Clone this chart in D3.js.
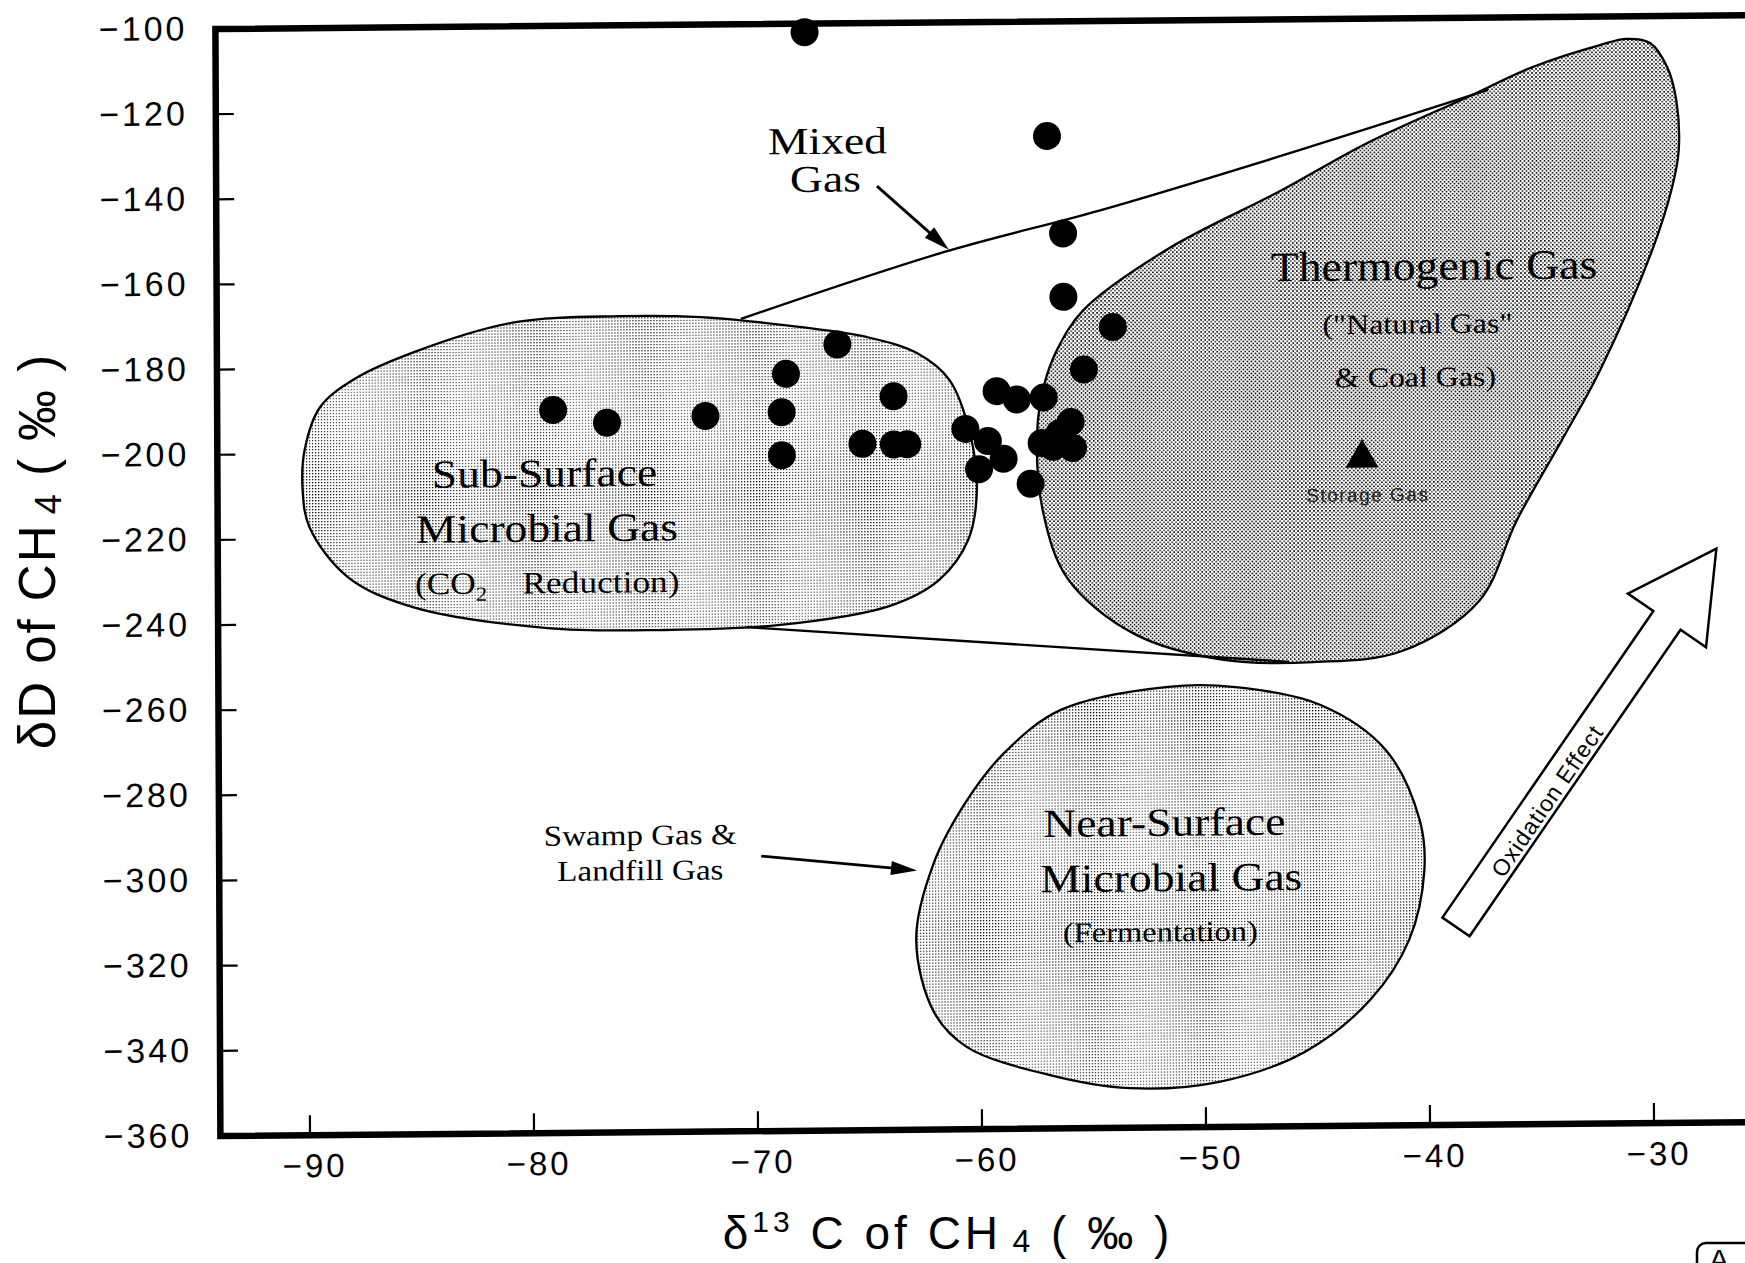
<!DOCTYPE html>
<html><head><meta charset="utf-8">
<script src="https://cdn.jsdelivr.net/npm/d3@7"></script>
<style>html,body{margin:0;padding:0;background:#fff;overflow:hidden}</style>
</head><body>
<svg id="chart" width="1745" height="1263" xmlns="http://www.w3.org/2000/svg"></svg>
<script>
// ---------------- data ----------------
const xTicks = [-90, -80, -70, -60, -50, -40, -30];
const xTickLabels = ["\u221290", "\u221280", "\u221270", "\u221260", "\u221250", "\u221240", "\u221230"];
const yTicks = [-100, -120, -140, -160, -180, -200, -220, -240, -260, -280, -300, -320, -340, -360];
const yTickLabels = ["\u2212100", "\u2212120", "\u2212140", "\u2212160", "\u2212180", "\u2212200", "\u2212220",
                     "\u2212240", "\u2212260", "\u2212280", "\u2212300", "\u2212320", "\u2212340", "\u2212360"];

// samples: delta13C and deltaD of CH4 (per mil)
const samplesD13C = [-67.7, -56.9, -56.2, -56.2, -54.0, -55.3, -59.2, -58.3, -57.1, -60.6, -59.6, -60.0, -58.9, -57.7,
                     -57.2, -56.7, -56.4, -55.9, -55.8,
                     -79.0, -76.6, -72.2, -68.8, -68.6, -68.8, -66.3, -65.2, -63.8, -63.8, -63.2];
const samplesDD   = [-102.0, -126.9, -149.8, -164.7, -171.9, -181.8, -186.7, -188.7, -188.3, -195.5, -198.4, -205.0, -202.6, -208.5,
                     -199.0, -199.9, -196.7, -194.1, -200.2,
                     -190.2, -193.3, -191.9, -191.2, -182.2, -201.3, -175.4, -198.8, -187.7, -199.0, -199.0];
const storageGasD13C = [-42.9];
const storageGasDD = [-203.2];

// field outlines (delta13C, deltaD)
const subSurfaceOutline = [[-89.4,-189.0],[-87.9,-182.6],[-85.2,-176.3],[-80.8,-169.6],[-76.0,-168.3],[-72.4,-168.7],
  [-68.0,-171.2],[-65.0,-173.7],[-62.75,-177.6],[-61.3,-184.0],[-60.4,-196.5],[-60.1,-209.9],[-60.5,-221.6],
  [-61.8,-230.9],[-64.0,-236.9],[-69.0,-241.2],[-74.3,-242.1],[-79.3,-241.4],[-85.3,-236.2],[-88.2,-229.0],
  [-89.9,-217.2],[-90.2,-208.4],[-90.1,-199.0]];
const thermogenicOutline = [[-35.2,-111.7],[-32.2,-106.7],[-31.0,-105.3],[-29.96,-106.3],[-29.2,-112.0],[-28.8,-119.8],
  [-28.7,-131.5],[-29.0,-140.2],[-29.9,-154.9],[-32.25,-183.0],[-33.9,-198.7],[-36.0,-218.1],[-37.7,-237.0],
  [-41.15,-248.6],[-45.1,-251.0],[-49.1,-250.3],[-53.1,-244.0],[-56.05,-231.0],[-57.15,-215.2],[-57.4,-196.6],
  [-57.1,-185.8],[-56.5,-177.2],[-55.3,-167.8],[-51.6,-153.9],[-46.5,-140.3],[-42.6,-129.2],[-38.1,-118.6]];
const nearSurfaceOutline = [[-62.9,-315.4],[-62.1,-297.4],[-60.6,-282.7],[-58.9,-271.5],[-56.4,-261.7],[-51.6,-256.5],
  [-48.6,-256.7],[-44.8,-261.1],[-41.9,-271.8],[-40.4,-288.3],[-40.2,-300.1],[-40.9,-316.5],[-42.65,-330.5],
  [-45.6,-342.6],[-49.4,-349.4],[-53.4,-350.7],[-57.0,-347.4],[-60.65,-340.7],[-62.1,-332.6]];
const mixedUpper = [[-70.6,-169.2],[-61.5,-153.9],[-54.5,-144.4],[-45.6,-130.7],[-37.2,-117.0]];
const mixedLower = [[-70.4,-241.6],[-46.2,-250.9]];

// annotation arrows
const mixedArrow = [[-64.5,-138.3],[-61.3,-153.4]];
const swampArrow = [[-69.8,-295.4],[-62.85,-299.1]];
const oxidationArrow = [[-38.8,-313.5],[-27.1,-225.2]];

// ---------------- drawing ----------------
const svg = d3.select('#chart');
const x = d3.scaleLinear().domain([-90, -30]).range([310, 1654]);
const y = d3.scaleLinear().domain([-100, -360]).range([29, 1136]);
const xMin = -94, xMax = -24;
const X0 = x(xMin), Y0 = y(-360);
const shY = -0.009, shX = 0.0045; // scan skew
const serif = '"Liberation Serif", "Times New Roman", serif';
const sans = '"Liberation Sans", Arial, Helvetica, sans-serif';

const defs = svg.append('defs');
const pd = defs.append('pattern').attr('id', 'dotsDark').attr('patternUnits', 'userSpaceOnUse').attr('width', 4).attr('height', 4);
pd.append('rect').attr('width', 4).attr('height', 4).attr('fill', '#fff');
pd.append('rect').attr('x', 0).attr('y', 0).attr('width', 1.55).attr('height', 1.55).attr('fill', '#000');
pd.append('rect').attr('x', 2).attr('y', 2).attr('width', 1.55).attr('height', 1.55).attr('fill', '#000');
const pl = defs.append('pattern').attr('id', 'dotsLight').attr('patternUnits', 'userSpaceOnUse').attr('width', 3).attr('height', 3);
pl.append('rect').attr('width', 3).attr('height', 3).attr('fill', '#fff');
pl.append('rect').attr('x', 0).attr('y', 0).attr('width', 1.12).attr('height', 1.12).attr('fill', '#000');

const g = svg.append('g').attr('transform', `matrix(1,${shY},${shX},1,${-shX * Y0},${-shY * X0})`);

const closed = d3.line().x(d => x(d[0])).y(d => y(d[1])).curve(d3.curveCatmullRomClosed.alpha(0.5));
const open = d3.line().x(d => x(d[0])).y(d => y(d[1])).curve(d3.curveCatmullRom.alpha(0.5));

// fields
g.append('path').attr('d', closed(thermogenicOutline)).attr('fill', 'url(#dotsDark)').attr('stroke', '#000').attr('stroke-width', 2.3);
g.append('path').attr('d', closed(subSurfaceOutline)).attr('fill', 'url(#dotsLight)').attr('stroke', '#000').attr('stroke-width', 2.3);
g.append('path').attr('d', open(mixedUpper)).attr('fill', 'none').attr('stroke', '#000').attr('stroke-width', 2.3);
g.append('path').attr('d', open(mixedLower)).attr('fill', 'none').attr('stroke', '#000').attr('stroke-width', 2.3);
g.append('path').attr('d', closed(nearSurfaceOutline)).attr('fill', 'url(#dotsLight)').attr('stroke', '#000').attr('stroke-width', 2.3);

// frame + ticks
g.append('rect').attr('x', x(xMin)).attr('y', y(-100)).attr('width', x(xMax) - x(xMin)).attr('height', y(-360) - y(-100))
  .attr('fill', 'none').attr('stroke', '#000').attr('stroke-width', 6.5);
g.selectAll('line.yt').data(yTicks).join('line').attr('class', 'yt')
  .attr('x1', x(xMin)).attr('x2', x(xMin) + 18).attr('y1', d => y(d)).attr('y2', d => y(d))
  .attr('stroke', '#000').attr('stroke-width', 2.2);
g.selectAll('line.xt').data(xTicks).join('line').attr('class', 'xt')
  .attr('x1', d => x(d)).attr('x2', d => x(d)).attr('y1', y(-360)).attr('y2', y(-360) - 20)
  .attr('stroke', '#000').attr('stroke-width', 2.2);
g.selectAll('text.yl').data(yTicks).join('text').attr('class', 'yl')
  .attr('x', x(xMin) - 28).attr('y', d => y(d) + 11).attr('text-anchor', 'end')
  .attr('font-family', sans).attr('font-size', 34).attr('letter-spacing', 3)
  .text((d, i) => yTickLabels[i]);
g.selectAll('text.xl').data(xTicks).join('text').attr('class', 'xl')
  .attr('x', d => x(d) + 5).attr('y', y(-360) + 42).attr('text-anchor', 'middle')
  .attr('font-family', sans).attr('font-size', 33).attr('letter-spacing', 3)
  .text((d, i) => xTickLabels[i]);

// serif labels
function label(txt, at, size, sx) {
  return g.append('text').attr('transform', `translate(${x(at[0])},${y(at[1])}) scale(${sx},1)`)
    .attr('text-anchor', 'middle').attr('font-family', serif).attr('font-size', size).attr('fill', '#000').text(txt);
}
label('Mixed', [-66.7, -130.6], 38, 1.2);
label('Gas', [-66.8, -139.5], 38, 1.2);
label('Sub-Surface', [-79.4, -208.2], 40, 1.14);
label('Microbial Gas', [-79.3, -221.1], 40, 1.14);
const co2 = label('', [-79.3, -233.2], 31, 1.14);
co2.append('tspan').text('(CO');
co2.append('tspan').attr('font-size', 20).attr('dy', 7).text('2');
co2.append('tspan').attr('dy', -7).text('\u2003Reduction)');
label('Thermogenic Gas', [-39.65, -161.5], 42, 1.09);
label('("Natural Gas"', [-40.4, -174.0], 28, 1.14);
label('& Coal Gas)', [-40.5, -186.5], 28, 1.14);
label('Near-Surface', [-51.8, -291.5], 40, 1.14);
label('Microbial Gas', [-51.5, -304.5], 40, 1.14);
label('(Fermentation)', [-52.0, -316.3], 28.5, 1.14);
label('Swamp Gas &', [-75.2, -292.5], 29, 1.14);
label('Landfill Gas', [-75.2, -300.8], 29, 1.14);

// annotation arrows
function arrow(seg, len, hw) {
  const p0 = [x(seg[0][0]), y(seg[0][1])], p1 = [x(seg[1][0]), y(seg[1][1])];
  const dx = p1[0] - p0[0], dy = p1[1] - p0[1], L = Math.hypot(dx, dy), ux = dx / L, uy = dy / L;
  const bx = p1[0] - ux * len, by = p1[1] - uy * len;
  g.append('line').attr('x1', p0[0]).attr('y1', p0[1]).attr('x2', bx + ux * 2).attr('y2', by + uy * 2)
    .attr('stroke', '#000').attr('stroke-width', 2.8);
  g.append('path').attr('d', `M${p1[0]},${p1[1]}L${bx - uy * hw},${by + ux * hw}L${bx + uy * hw},${by - ux * hw}Z`).attr('fill', '#000');
}
arrow(mixedArrow, 26, 7);
arrow(swampArrow, 26, 7);

// oxidation arrow
(function () {
  const t0 = [x(oxidationArrow[0][0]), y(oxidationArrow[0][1])], t1 = [x(oxidationArrow[1][0]), y(oxidationArrow[1][1])];
  const dx = t1[0] - t0[0], dy = t1[1] - t0[1], L = Math.hypot(dx, dy), ux = dx / L, uy = dy / L, nx = -uy, ny = ux;
  const hw = 16.5, HW = 47.5, HL = 87;
  const bx = t1[0] - ux * HL, by = t1[1] - uy * HL;
  const pts = [[t0[0] + nx * hw, t0[1] + ny * hw], [bx + nx * hw, by + ny * hw], [bx + nx * HW, by + ny * HW], t1,
               [bx - nx * HW, by - ny * HW], [bx - nx * hw, by - ny * hw], [t0[0] - nx * hw, t0[1] - ny * hw]];
  g.append('path').attr('d', 'M' + pts.map(p => p.join(',')).join('L') + 'Z')
    .attr('fill', '#fff').attr('stroke', '#000').attr('stroke-width', 2.5).attr('stroke-linejoin', 'miter');
  const ang = Math.atan2(dy, dx) * 180 / Math.PI;
  const tc = [x(-34.7), y(-284.1)];
  g.append('text').attr('transform', `translate(${tc[0]},${tc[1]}) rotate(${ang})`)
    .attr('text-anchor', 'middle').attr('dy', '0.35em').attr('font-family', sans).attr('font-size', 23)
    .attr('letter-spacing', 1).text('Oxidation Effect');
})();

// samples
g.selectAll('circle.s').data(samplesD13C).join('circle').attr('class', 's')
  .attr('cx', d => x(d)).attr('cy', (d, i) => y(samplesDD[i])).attr('r', 14).attr('fill', '#000');
// storage gas
g.selectAll('path.sg').data(storageGasD13C).join('path').attr('class', 'sg')
  .attr('d', d3.symbol(d3.symbolTriangle, 471)())
  .attr('transform', (d, i) => `translate(${x(d)},${y(storageGasDD[i])})`).attr('fill', '#000');
g.append('text').attr('x', x(-42.65)).attr('y', y(-213.4)).attr('text-anchor', 'middle')
  .attr('font-family', sans).attr('font-size', 19).attr('letter-spacing', 1.5).attr('fill', '#222').text('Storage Gas');

// axis titles
const yt = svg.append('text').attr('transform', 'translate(55,551) rotate(-90)').attr('text-anchor', 'middle')
  .attr('font-family', sans).attr('font-size', 51).attr('letter-spacing', 2);
yt.append('tspan').text('\u03b4D of CH');
yt.append('tspan').attr('font-size', 36).attr('dy', 6).text('\u20094');
yt.append('tspan').attr('dy', -6).text(' ( \u2030 )');

const xt = svg.append('text').attr('x', 948).attr('y', 1249).attr('text-anchor', 'middle')
  .attr('font-family', sans).attr('font-size', 46).attr('letter-spacing', 4);
xt.append('tspan').text('\u03b4');
xt.append('tspan').attr('font-size', 30).attr('dy', -17).text('13');
xt.append('tspan').attr('dy', 17).text(' C of CH');
xt.append('tspan').attr('font-size', 32).attr('dy', 3).text('\u20094');
xt.append('tspan').attr('dy', -3).text(' ( \u2030 )');

// corner panel tag (cut off at the page edge, as in the scan)
svg.append('rect').attr('x', 1697).attr('y', 1243).attr('width', 100).attr('height', 60).attr('rx', 9)
  .attr('fill', 'none').attr('stroke', '#000').attr('stroke-width', 2.5);
svg.append('text').attr('x', 1719).attr('y', 1270).attr('text-anchor', 'middle')
  .attr('font-family', sans).attr('font-size', 30).text('A');
</script>
</body></html>
